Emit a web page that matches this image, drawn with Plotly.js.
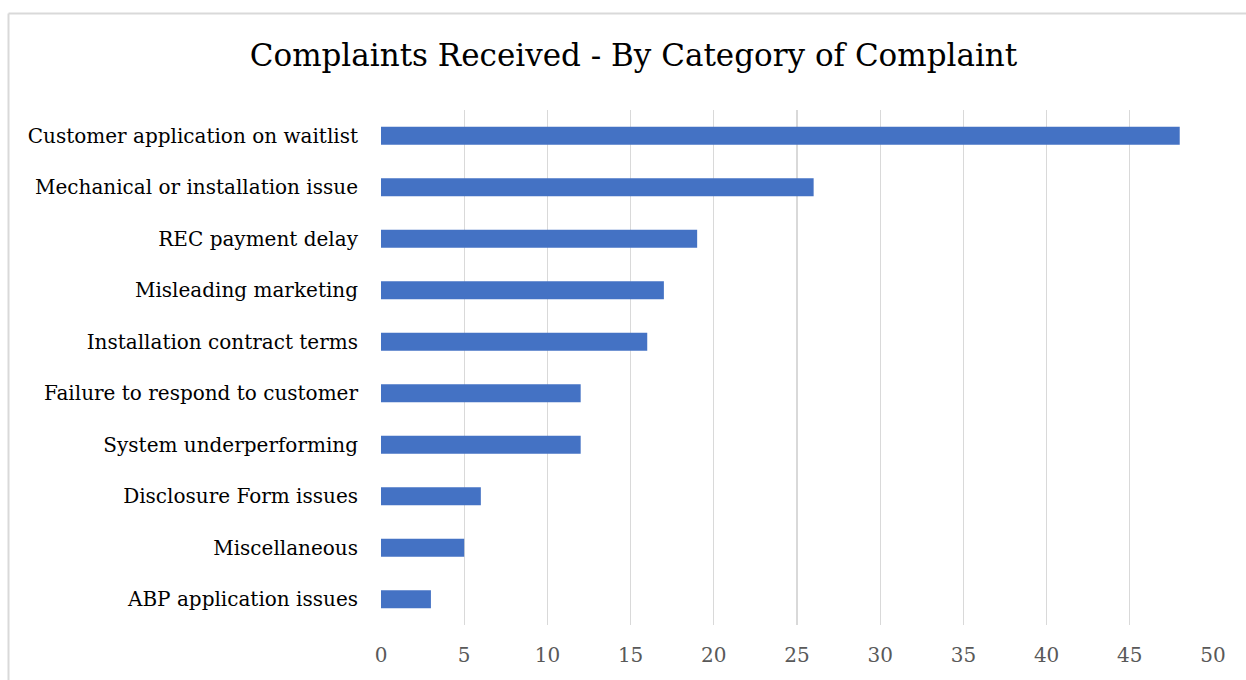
<!DOCTYPE html>
<html>
<head>
<meta charset="utf-8">
<script src="https://cdn.plot.ly/plotly-3.0.1.min.js"></script>
<style>html,body{margin:0;padding:0;background:#fff;}#chart{width:1246px;height:680px;}</style>
</head>
<body>
<div id="chart"></div>
<script>
const categories = [
  "Customer application on waitlist",
  "Mechanical or installation issue",
  "REC payment delay",
  "Misleading marketing",
  "Installation contract terms",
  "Failure to respond to customer",
  "System underperforming",
  "Disclosure Form issues",
  "Miscellaneous",
  "ABP application issues"
];
const complaints = [48, 26, 19, 17, 16, 12, 12, 6, 5, 3];
const xTicks = [0, 5, 10, 15, 20, 25, 30, 35, 40, 45, 50];
const chartTitle = "Complaints Received - By Category of Complaint";

const FONT = "DejaVu Serif, Liberation Serif, serif";

const trace = {
  type: "bar",
  orientation: "h",
  x: complaints,
  y: categories,
  marker: {color: "#4472C4"},
  hoverinfo: "x+y"
};

const layout = {
  width: 1246,
  height: 680,
  margin: {l: 381, r: 33, t: 110, b: 55},
  paper_bgcolor: "#ffffff",
  plot_bgcolor: "#ffffff",
  showlegend: false,
  bargap: 0.65,
  title: {
    text: chartTitle,
    font: {family: FONT, size: 31, color: "#000000"},
    x: 0.3035, xref: "paper", xanchor: "center",
    y: 57, yref: "container", yanchor: "middle"
  },
  xaxis: {
    range: [0, 50],
    tickmode: "array",
    tickvals: xTicks,
    ticktext: xTicks.map(String),
    showgrid: true,
    gridcolor: "#d9d9d9",
    gridwidth: 1.3,
    zeroline: false,
    showline: false,
    ticks: "outside",
    ticklen: 12,
    tickcolor: "rgba(0,0,0,0)",
    tickfont: {family: FONT, size: 20, color: "#595959"},
    fixedrange: true
  },
  yaxis: {
    autorange: "reversed",
    type: "category",
    showgrid: false,
    zeroline: false,
    showline: false,
    ticks: "outside",
    ticklen: 18,
    tickcolor: "rgba(0,0,0,0)",
    tickfont: {family: FONT, size: 20, color: "#000000"},
    fixedrange: true
  },
  shapes: [
    {type: "line", xref: "paper", yref: "paper", x0: -0.4477, x1: 1.1, y0: 1.1874, y1: 1.1874,
     line: {color: "#d9d9d9", width: 2}},
    {type: "line", xref: "paper", yref: "paper", x0: -0.4477, x1: -0.4477, y0: 1.1874, y1: -0.2,
     line: {color: "#d9d9d9", width: 2}}
  ]
};

Plotly.newPlot("chart", [trace], layout, {displayModeBar: false, staticPlot: true});
</script>
</body>
</html>
